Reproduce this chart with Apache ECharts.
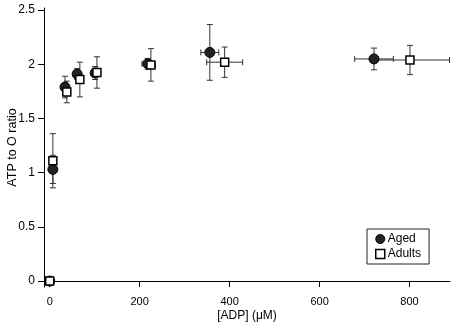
<!DOCTYPE html>
<html>
<head>
<meta charset="utf-8">
<script src="https://cdn.jsdelivr.net/npm/echarts@6/dist/echarts.min.js"></script>
<style>
  html, body { margin: 0; padding: 0; background: #fff; }
  #chart { width: 454px; height: 329px; }
</style>
</head>
<body>
<div id="chart"></div>
<script>
// ATP/O ratio vs ADP concentration
const agedX = [0, 7, 34, 61, 101, 218, 356, 721]
const agedY = [0, 1.03, 1.79, 1.91, 1.92, 2.005, 2.11, 2.05]
const agedYErr = [0.02, 0.13, 0.10, 0.05, 0.06, 0.05, 0.257, 0.10]
const agedXErr = [0, 0, 0, 0, 0, 13, 20, 43]

const adultX = [0, 7, 38, 67, 105, 225, 389, 801]
const adultY = [0, 1.11, 1.745, 1.86, 1.925, 1.995, 2.02, 2.04]
const adultYErr = [0.02, 0.25, 0.10, 0.16, 0.145, 0.15, 0.14, 0.135]
const adultXErr = [0, 0, 0, 0, 7, 10, 40, 88]

const xTicks = [0, 200, 400, 600, 800]
const yTicks = [0, 0.5, 1, 1.5, 2, 2.5]

const chart = echarts.init(document.getElementById('chart'))

function errorRows(xs, ys, xe, ye) {
  return xs.map((x, i) => [x, ys[i], xe[i], ye[i]])
}

function renderErrorBar(params, api) {
  const x = api.value(0)
  const y = api.value(1)
  const dx = api.value(2)
  const dy = api.value(3)
  const cap = 3
  const style = { stroke: '#333', lineWidth: 1 }
  const children = []
  if (dy > 0) {
    const top = api.coord([x, y + dy])
    const bot = api.coord([x, y - dy])
    children.push(
      { type: 'line', shape: { x1: top[0], y1: top[1], x2: bot[0], y2: bot[1] }, style },
      { type: 'line', shape: { x1: top[0] - cap, y1: top[1], x2: top[0] + cap, y2: top[1] }, style },
      { type: 'line', shape: { x1: bot[0] - cap, y1: bot[1], x2: bot[0] + cap, y2: bot[1] }, style }
    )
  }
  if (dx > 0) {
    const l = api.coord([x - dx, y])
    const r = api.coord([x + dx, y])
    children.push(
      { type: 'line', shape: { x1: l[0], y1: l[1], x2: r[0], y2: r[1] }, style },
      { type: 'line', shape: { x1: l[0], y1: l[1] - cap, x2: l[0], y2: l[1] + cap }, style },
      { type: 'line', shape: { x1: r[0], y1: r[1] - cap, x2: r[0], y2: r[1] + cap }, style }
    )
  }
  return { type: 'group', children }
}

const font = 'Liberation Sans, Arial, sans-serif'

const option = {
  animation: false,
  grid: { left: 44, right: 4, top: 8, bottom: 42, outerBoundsMode: 'none', containLabel: false },
  legend: {
    orient: 'vertical',
    left: 367,
    top: 229,
    padding: [4, 8, 4, 8],
    itemGap: 3,
    itemWidth: 9,
    itemHeight: 9,
    borderColor: '#222',
    borderWidth: 1,
    borderRadius: 0,
    textStyle: { fontFamily: font, fontSize: 12, color: '#000', padding: [0, 0, 0, -2] },
    data: [
      { name: 'Aged', icon: 'circle', itemStyle: { color: '#222', borderColor: '#000', borderWidth: 1 } },
      { name: 'Adults', icon: 'rect', itemStyle: { color: '#fff', borderColor: '#000', borderWidth: 1.5 } }
    ]
  },
  xAxis: {
    type: 'value',
    min: -12.7,
    max: 890,
    name: '[ADP] (μM)',
    nameLocation: 'middle',
    nameGap: 23,
    nameMoveOverlap: false,
    nameTextStyle: { fontFamily: font, fontSize: 12, color: '#000' },
    splitLine: { show: false },
    axisLine: { lineStyle: { color: '#000', width: 1 } },
    axisTick: { customValues: xTicks, length: 6, lineStyle: { color: '#000' } },
    axisLabel: { customValues: xTicks, fontFamily: font, fontSize: 11, color: '#000', margin: 9 }
  },
  yAxis: {
    type: 'value',
    min: -0.055,
    max: 2.52,
    name: 'ATP to O ratio',
    nameLocation: 'middle',
    nameGap: 25,
    nameMoveOverlap: false,
    nameTextStyle: { fontFamily: font, fontSize: 12.5, color: '#000' },
    splitLine: { show: false },
    axisLine: { onZero: false, lineStyle: { color: '#000', width: 1 } },
    axisTick: { customValues: yTicks, length: 6, lineStyle: { color: '#000' } },
    axisLabel: { customValues: yTicks, fontFamily: font, fontSize: 12, color: '#000', margin: 9 }
  },
  series: [
    {
      type: 'custom',
      name: 'agedErr',
      renderItem: renderErrorBar,
      data: errorRows(agedX, agedY, agedXErr, agedYErr),
      z: 1,
      silent: true
    },
    {
      type: 'custom',
      name: 'adultErr',
      renderItem: renderErrorBar,
      data: errorRows(adultX, adultY, adultXErr, adultYErr),
      z: 1,
      silent: true
    },
    {
      type: 'scatter',
      name: 'Aged',
      symbol: 'circle',
      symbolSize: 10,
      itemStyle: { color: '#222', borderColor: '#000', borderWidth: 1, opacity: 1 },
      data: agedX.map((x, i) => [x, agedY[i]]),
      z: 3
    },
    {
      type: 'scatter',
      name: 'Adults',
      symbol: 'rect',
      symbolSize: 8,
      itemStyle: { color: '#fff', borderColor: '#000', borderWidth: 1.5, opacity: 1 },
      data: adultX.map((x, i) => [x, adultY[i]]),
      z: 4
    }
  ]
}

chart.setOption(option)
</script>
</body>
</html>
